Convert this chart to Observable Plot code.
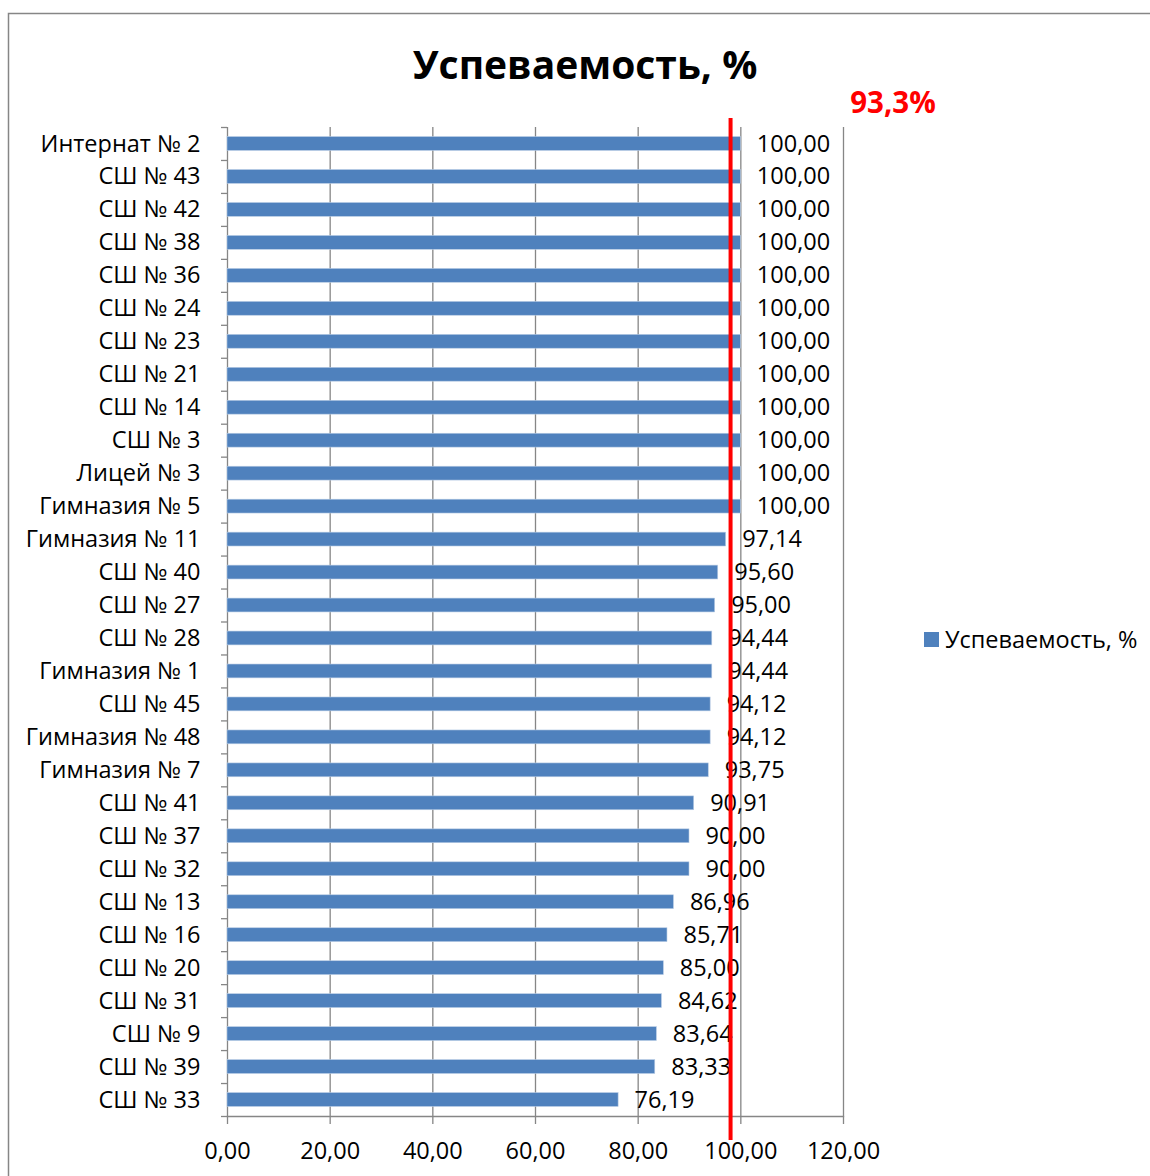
<!DOCTYPE html>
<html>
<head>
<meta charset="utf-8">
<script src="https://cdn.jsdelivr.net/npm/d3@7"></script>
<script src="https://cdn.jsdelivr.net/npm/@observablehq/plot@0.6"></script>
<style>
  html, body { margin: 0; padding: 0; background: #fff; }
  #chart { width: 1150px; height: 1176px; overflow: hidden; }
</style>
</head>
<body>
<div id="chart"></div>
<script>
const titleText = "Успеваемость, %";
const seriesName = "Успеваемость, %";
const averageLabel = "93,3%";
const redLineValue = 98.0;

const schools = [
  "Интернат № 2", "СШ № 43", "СШ № 42", "СШ № 38", "СШ № 36", "СШ № 24",
  "СШ № 23", "СШ № 21", "СШ № 14", "СШ № 3", "Лицей № 3", "Гимназия № 5",
  "Гимназия № 11", "СШ № 40", "СШ № 27", "СШ № 28", "Гимназия № 1", "СШ № 45",
  "Гимназия № 48", "Гимназия № 7", "СШ № 41", "СШ № 37", "СШ № 32", "СШ № 13",
  "СШ № 16", "СШ № 20", "СШ № 31", "СШ № 9", "СШ № 39", "СШ № 33"
];
const values = [
  100, 100, 100, 100, 100, 100,
  100, 100, 100, 100, 100, 100,
  97.14, 95.60, 95.00, 94.44, 94.44, 94.12,
  94.12, 93.75, 90.91, 90.00, 90.00, 86.96,
  85.71, 85.00, 84.62, 83.64, 83.33, 76.19
];
const xTicks = [0, 20, 40, 60, 80, 100, 120];

const data = schools.map((name, i) => ({name, value: values[i]}));
const fmt = v => d3.format(".2f")(v).replace(".", ",");

const W = 1150, H = 1176;
const mL = 227, mR = 307, mT = 127, mB = 60;
const step = (H - mT - mB) / schools.length;
const gray = "#868686";
const font = "'Open Sans', 'Noto Sans', 'DejaVu Sans', sans-serif";
const fs = 23.5;

const plot = Plot.plot({
  width: W, height: H,
  marginLeft: mL, marginRight: mR, marginTop: mT, marginBottom: mB,
  style: {fontFamily: font, fontSize: fs + "px", background: "#fff", color: "#000"},
  x: {domain: [0, 120], ticks: xTicks, label: null},
  y: {domain: schools, paddingInner: 0.58, paddingOuter: 0.29, round: false, label: null},
  marks: [
    Plot.gridX(xTicks, {stroke: gray, strokeOpacity: 1, strokeWidth: 1.3}),
    Plot.frame({anchor: "bottom", stroke: gray, strokeWidth: 1.3}),
    Plot.ruleY(schools, {y: d => d, x1: 0, x2: 0, insetLeft: -6, dy: step / 2, stroke: gray, strokeWidth: 1.3}),
    Plot.ruleY(schools.slice(0, 1), {y: d => d, x1: 0, x2: 0, insetLeft: -6, dy: -step / 2, stroke: gray, strokeWidth: 1.3}),
    Plot.axisX(xTicks, {tickSize: 8, tickPadding: 18, tickFormat: fmt, fontSize: fs, stroke: gray, strokeWidth: 1.3, fill: "#000", label: null}),
    Plot.axisY({tickSize: 0, tickPadding: 27, fontSize: fs, fill: "#000", label: null}),
    Plot.barX(data, {x: "value", y: "name", fill: "#4F81BD", stroke: "#b8cce4", strokeWidth: 0.6}),
    Plot.text(data, {x: "value", y: "name", text: d => fmt(d.value), textAnchor: "start", dx: 16, fontSize: fs, fill: "#000"}),
    Plot.ruleX([redLineValue], {stroke: "#ff0000", strokeWidth: 4, insetTop: -9, insetBottom: -24})
  ]
});

const svg = d3.select(plot);
// outer border (top and left)
svg.append("path")
  .attr("d", `M8.5,${H} V13.5 H${W}`)
  .attr("fill", "none").attr("stroke", gray).attr("stroke-width", 1.5);
// title
svg.append("text")
  .attr("x", 585).attr("y", 79)
  .attr("text-anchor", "middle")
  .attr("font-family", font).attr("font-weight", "bold").attr("font-size", 39)
  .attr("fill", "#000").text(titleText);
// average label
svg.append("text")
  .attr("x", 893).attr("y", 113)
  .attr("text-anchor", "middle")
  .attr("font-family", font).attr("font-weight", "bold").attr("font-size", 29.5)
  .attr("fill", "#ff0000").text(averageLabel);
// legend
svg.append("rect")
  .attr("x", 924).attr("y", 632).attr("width", 15).attr("height", 15)
  .attr("fill", "#4F81BD");
svg.append("text")
  .attr("x", 945).attr("y", 648)
  .attr("text-anchor", "start")
  .attr("font-family", font).attr("font-size", fs)
  .attr("fill", "#000").text(seriesName);

document.getElementById("chart").appendChild(plot);
</script>
</body>
</html>
